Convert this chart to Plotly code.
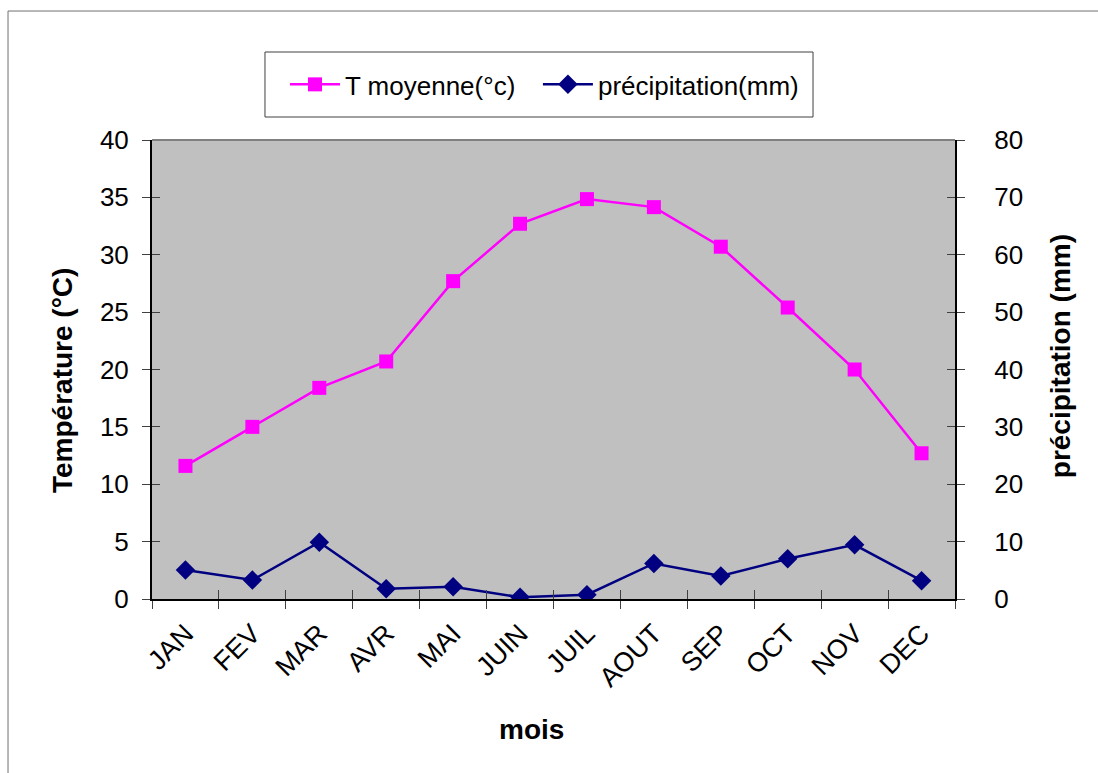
import plotly.graph_objects as go

months = ["JAN", "FEV", "MAR", "AVR", "MAI", "JUIN", "JUIL", "AOUT", "SEP", "OCT", "NOV", "DEC"]
temp_moy = [11.6, 15.0, 18.4, 20.7, 27.7, 32.7, 34.85, 34.15, 30.7, 25.4, 20.0, 12.7]
precip = [5.05, 3.3, 9.9, 1.8, 2.15, 0.3, 0.75, 6.2, 4.0, 7.0, 9.45, 3.2]

FONT = "Liberation Sans, Arial, sans-serif"

fig = go.Figure()
fig.add_trace(go.Scatter(
    x=months, y=temp_moy, name="T moyenne(°c)", mode="lines+markers",
    line=dict(color="#FF00FF", width=2.5),
    marker=dict(symbol="square", size=14, color="#FF00FF"),
    xaxis="x", yaxis="y", legend="legend"))
fig.add_trace(go.Scatter(
    x=months, y=precip, name="précipitation(mm)", mode="lines+markers",
    line=dict(color="#000080", width=2.5),
    marker=dict(symbol="diamond", size=15, color="#000080"),
    xaxis="x", yaxis="y2", legend="legend2"))

tickfont = dict(family=FONT, size=26, color="black")
titlefont = dict(family=FONT, size=28, color="black")
legfont = dict(family=FONT, size=26, color="black")

fig.update_layout(
    width=1098, height=773,
    margin=dict(l=152, r=143, t=140, b=174),
    paper_bgcolor="white", plot_bgcolor="#C0C0C0",
    font=dict(family=FONT, size=24, color="black"),
    showlegend=True,
    legend=dict(orientation="h", x=0.1656, xanchor="left", y=1.121, yanchor="middle",
                font=legfont, bgcolor="rgba(0,0,0,0)", itemwidth=50),
    legend2=dict(orientation="h", x=0.4806, xanchor="left", y=1.121, yanchor="middle",
                 font=legfont, bgcolor="rgba(0,0,0,0)", itemwidth=50),
    xaxis=dict(type="category", categoryorder="array", categoryarray=months,
               range=[-0.5, 11.5], tickson="boundaries", ticks="outside", ticklen=8,
               tickcolor="#404040", tickwidth=1,
               showline=True, linecolor="black", linewidth=2, showgrid=False, zeroline=False,
               tickangle=-45, tickfont=dict(family=FONT, size=27, color="black"),
               ticklabelstandoff=6),
    xaxis2=dict(overlaying="x", range=[-0.5, 11.5], tick0=-0.5, dtick=1, ticks="inside",
                ticklen=9, tickcolor="#404040", tickwidth=1, showticklabels=False,
                showline=False, showgrid=False, zeroline=False, side="bottom", anchor="y"),
    yaxis=dict(range=[0, 40], dtick=5, ticks="outside", ticklen=8, tickcolor="#404040",
               tickwidth=1, showline=True, linecolor="black", linewidth=2,
               showgrid=False, zeroline=False, tickfont=tickfont, ticklabelstandoff=8),
    yaxis2=dict(range=[0, 80], dtick=10, overlaying="y", side="right", ticks="outside",
                ticklen=8, tickcolor="#404040", tickwidth=1, showline=True,
                linecolor="black", linewidth=2, showgrid=False, zeroline=False,
                tickfont=tickfont, ticklabelstandoff=24),
    yaxis3=dict(range=[0, 40], dtick=5, overlaying="y", side="left", ticks="inside",
                ticklen=8, tickcolor="#404040", tickwidth=1, showticklabels=False,
                showline=False, showgrid=False, zeroline=False, anchor="x"),
    yaxis4=dict(range=[0, 80], dtick=10, overlaying="y", side="right", ticks="inside",
                ticklen=8, tickcolor="#404040", tickwidth=1, showticklabels=False,
                showline=False, showgrid=False, zeroline=False, anchor="x"),
    annotations=[
        dict(text="<b>Température (°C)</b>", xref="paper", yref="paper", x=-0.1121, y=0.4771,
             textangle=-90, showarrow=False, font=titlefont, xanchor="center", yanchor="middle"),
        dict(text="<b>précipitation (mm)</b>", xref="paper", yref="paper", x=1.131, y=0.5294,
             textangle=-90, showarrow=False, font=titlefont, xanchor="center", yanchor="middle"),
        dict(text="<b>mois</b>", xref="paper", yref="paper", x=0.472, y=-0.2854,
             showarrow=False, font=titlefont, xanchor="center", yanchor="middle"),
    ],
    shapes=[
        dict(type="line", xref="paper", yref="paper", x0=0, x1=1, y0=1, y1=1,
             line=dict(color="#808080", width=2)),
        dict(type="rect", xref="paper", yref="paper", x0=0.1407, x1=0.8232, y0=1.0501, y1=1.1917,
             line=dict(color="#404040", width=1), fillcolor="rgba(0,0,0,0)"),
        dict(type="rect", xref="paper", yref="paper", x0=-0.1793, x1=1.19, y0=-0.40, y1=1.2810,
             line=dict(color="#707070", width=1), fillcolor="rgba(0,0,0,0)", layer="below"),
    ],
)

# dummy invisible traces so overlay tick axes are drawn
fig.add_trace(go.Scatter(x=[0], y=[0], xaxis="x2", yaxis="y3", mode="markers",
                         marker=dict(opacity=0), showlegend=False, hoverinfo="skip"))
fig.add_trace(go.Scatter(x=[0], y=[0], xaxis="x2", yaxis="y4", mode="markers",
                         marker=dict(opacity=0), showlegend=False, hoverinfo="skip"))

fig.write_html("out.html")
